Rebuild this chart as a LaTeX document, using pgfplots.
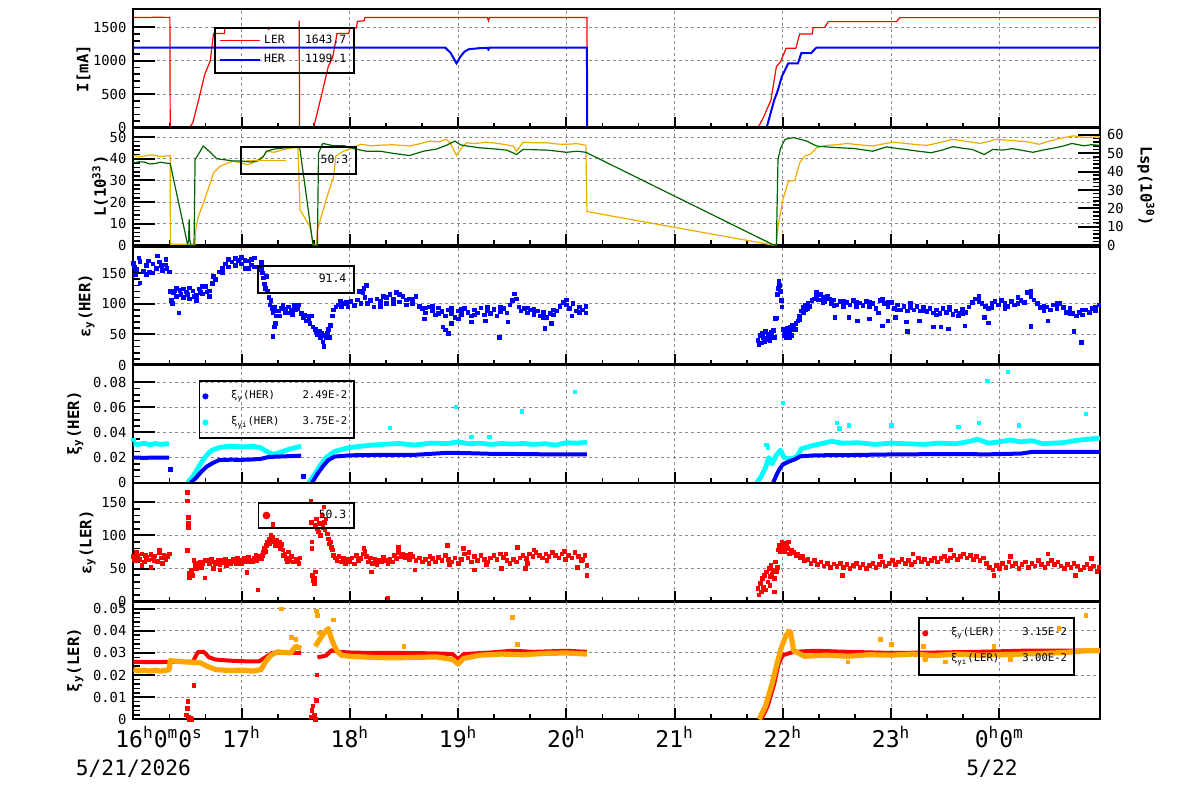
\documentclass[border=0pt]{standalone}
\usepackage{fontspec}
\setmainfont{DejaVu Sans Mono}
\usepackage{pgfplots}
\pgfplotsset{compat=1.18}
\definecolor{lorange}{RGB}{240,170,0}
\definecolor{dgreen}{RGB}{0,100,0}
\definecolor{xorange}{RGB}{255,165,0}
\definecolor{ccyan}{RGB}{0,255,255}
\pgfplotsset{
  base/.style={scale only axis, width=483.3pt, height=59.15pt, xmin=16, xmax=24.93, anchor=south west,
    axis line style={line width=1pt},
    grid style={dash pattern=on 1.5pt off 1.5pt, color=black!45, line width=0.5pt},
    every tick/.style={black, line width=1pt},
    every minor tick/.style={black, line width=0.8pt},
    scaled y ticks=false,
    tick label style={font=\fontsize{6.9}{7}\selectfont}},
  xov/.style={base, ymin=0, ymax=1, xtick={16,...,24}, minor x tick num=2, xtick pos=left,
    tick align=inside, major tick length=5.5pt, minor tick length=2.5pt, xmajorgrids,
    ytick=\empty, xticklabels={}},
  dat/.style={base, xtick=\empty, ytick pos=left, tick align=inside, major tick length=11pt,
    minor tick length=3.5pt, ymajorgrids, minor y tick num=4,
    ylabel style={font=\bfseries\fontsize{7.8}{8}\selectfont},
    unbounded coords=jump,
    legend cell align=left,
    legend style={draw=black, line width=0.8pt, fill=none, font=\fontsize{5.7}{6.5}\selectfont,
      inner xsep=2pt, inner ysep=1pt, row sep=0pt, anchor=north east}},
  lineleg/.style={legend image code/.code={\draw[##1, line width=0.6pt] (0pt,0pt) -- (20pt,0pt);}},
  sq/.style={only marks, mark=square*, mark size=0.9pt},
}
\begin{document}
\begin{tikzpicture}
\useasboundingbox (0,0) rectangle (600pt,399pt);
% ================= Panel 1: I[mA]
\begin{axis}[xov, at={(66.7pt,335.15pt)}]\end{axis}
\begin{axis}[dat, at={(66.7pt,335.15pt)}, ymin=0, ymax=1770, ytick={0,500,1000,1500},
  yticklabels={0,500,1000,1500}, ylabel={I[mA]}, ylabel style={yshift=-5.5pt},
  legend style={at={(0.2293,0.851)}, inner ysep=1.5pt}]
\addplot[red, line width=0.6pt, lineleg] coordinates {
(16.0,1650)(16.1,1648)(16.2,1652)(16.337,1650)(16.34,0)(16.52,0)(16.55,80)(16.6,400)(16.66,800)(16.71,1000)(16.74,1410)
(16.84,1410)(16.845,1490)(17.24,1490)(17.25,1470)(17.26,1490)(17.53,1490)(17.532,1600)(17.535,0)(17.66,0)(17.68,100)(17.74,500)
(17.8,913)(17.84,1050)(17.87,1300)(17.88,1410)(17.99,1410)(18.0,1490)(18.06,1490)(18.07,1590)(18.13,1600)(18.14,1650)
(19.27,1650)(19.28,1600)(19.29,1650)(20.19,1650)(20.192,0)(21.77,0)(21.82,150)(21.89,415)(21.94,913)(21.98,990)
(22.03,1189)(22.12,1189)(22.155,1403)(22.27,1403)(22.28,1497)(22.385,1497)(22.42,1587)(23.05,1587)(23.08,1647)(24.93,1647)};
\addlegendentry{\makebox[41pt][l]{LER\hfill 1643.7}}
\addplot[blue, line width=1pt, lineleg] coordinates {
(16.0,1199)(18.88,1199)(18.93,1120)(18.985,964)(19.02,1060)(19.06,1140)(19.1,1175)(19.2,1190)(19.27,1195)(19.28,1170)
(19.29,1199)(20.19,1199)(20.192,0)(21.85,0)(21.92,413)(21.955,564)(21.99,763)(22.05,964)(22.14,964)(22.17,1114)
(22.26,1114)(22.31,1199)(24.93,1199)};
\addlegendentry{\makebox[41pt][l]{HER\hfill 1199.1}}
\end{axis}
% ================= Panel 2: L
\begin{axis}[xov, at={(66.7pt,276.35pt)}]\end{axis}
\begin{axis}[base, at={(66.7pt,276.35pt)}, hide x axis, axis y line*=right, ymin=0, ymax=64.2,
  ytick={0,10,20,30,40,50,60}, yticklabels={0,10,20,30,40,50,60}, minor y tick num=4,
  tick align=inside, major tick length=11pt, minor tick length=3.5pt,
  ylabel={Lsp(10\textsuperscript{30})}, ylabel style={font=\bfseries\fontsize{7.8}{8}\selectfont, rotate=180}]
\end{axis}
\begin{axis}[dat, at={(66.7pt,276.35pt)}, ymin=0, ymax=54.7, ytick={0,10,20,30,40,50},
  yticklabels={0,10,20,30,40,50}, ylabel={L(10\textsuperscript{33})}, ylabel style={yshift=-6pt},
  legend style={at={(0.2313,0.839)}, inner ysep=2pt}]
\addplot[lorange, line width=0.6pt, forget plot] coordinates {
(16.0,41.5)(16.05,41.0)(16.1,41.2)(16.15,41.8)(16.2,41.6)(16.25,41.0)(16.3,41.3)(16.34,41.5)(16.342,0.5)(16.57,0.5)(16.575,7)
(16.6,13.3)(16.65,20)(16.71,28.8)(16.74,33.5)(16.8,36.6)(16.92,38.9)(17.0,38.1)(17.05,37.2)(17.1,38)(17.2,41.2)(17.23,43.5)
(17.3,43)(17.4,44.5)(17.48,45.1)(17.52,45.1)(17.54,16.4)(17.63,8.7)(17.66,0.3)(17.69,0.3)(17.70,7)(17.78,21)(17.85,31.9)
(17.87,41.2)(17.94,43.5)(18.0,44.5)(18.1,46.7)(18.2,46)(18.28,46.3)(18.4,46.5)(18.55,45.9)(18.65,47)(18.74,48.2)(18.82,47.8)
(18.89,49)(18.93,47)(18.985,41.5)(19.03,45)(19.08,47.4)(19.15,47)(19.26,47.7)(19.38,47)(19.51,45.9)(19.54,43.5)(19.6,47.7)
(19.7,47.4)(19.82,47.4)(19.92,46.8)(20.0,46.7)(20.1,47)(20.18,46.3)(20.19,15.6)(21.92,0)(21.94,0)(21.955,8.7)(22.0,21)
(22.05,29.6)(22.11,30)(22.155,38.1)(22.2,41.2)(22.26,42.3)(22.31,45.1)(22.4,46.2)(22.5,46.5)(22.59,47.1)(22.7,46.5)
(22.83,45.9)(22.92,46.8)(23.02,47.7)(23.15,47)(23.25,46.5)(23.33,46.2)(23.45,47.5)(23.57,49)(23.7,48)(23.82,47.1)(23.9,48)
(23.97,49)(24.1,48.5)(24.25,47.9)(24.37,46.7)(24.45,48)(24.55,49.3)(24.68,50.6)(24.8,49.8)(24.93,50.2)};
\addplot[dgreen, line width=0.6pt, forget plot] coordinates {
(16.0,38.1)(16.05,38.6)(16.1,38.5)(16.15,37.6)(16.2,37.8)(16.25,38.4)(16.3,38.0)(16.34,37.8)(16.50,0.5)(16.51,2)(16.515,12)
(16.52,3)(16.53,0)(16.56,0)(16.57,39.7)(16.6,42)(16.645,45.9)(16.7,43.5)(16.77,40)(16.85,39.5)(16.92,39)(17.0,39)(17.08,38.5)
(17.15,39)(17.2,41)(17.23,43.5)(17.3,44.5)(17.41,45.1)(17.53,45.5)(17.54,44)(17.66,0)(17.7,0)(17.71,42.6)(17.75,47.1)
(17.85,46)(17.95,46)(18.05,44.5)(18.15,43.5)(18.28,43.5)(18.4,42.5)(18.55,41.5)(18.68,43.5)(18.8,44.5)(18.89,46.2)
(18.97,48.2)(19.02,46.5)(19.08,45.9)(19.2,45.1)(19.35,44.5)(19.45,44)(19.54,42)(19.6,44.3)(19.7,44.2)(19.82,44)(19.92,43.5)
(20.0,43)(20.1,43.5)(20.18,43)(21.92,0)(21.94,0)(21.955,39.7)(21.98,45)(22.02,49)(22.1,49.8)(22.22,48.2)(22.31,45.9)
(22.4,45.5)(22.52,45.1)(22.65,44.8)(22.83,43.5)(22.96,45.5)(23.05,44.8)(23.14,44.3)(23.25,43.5)(23.37,42.8)(23.47,44)
(23.57,45.6)(23.67,44.8)(23.75,44.3)(23.86,42)(23.94,44.3)(24.03,44)(24.12,44.7)(24.22,43.8)(24.31,43)(24.42,44.2)
(24.52,45.1)(24.6,46)(24.67,47.1)(24.78,46)(24.85,46.5)(24.93,46.2)};
\addlegendimage{lorange, lineleg}
\addlegendentry{\makebox[29pt][r]{50.3}}
\end{axis}
% ================= Panel 3: eps_y(HER)
\begin{axis}[xov, at={(66.7pt,216.5pt)}]\end{axis}
\begin{axis}[dat, at={(66.7pt,216.5pt)}, ymin=0, ymax=193, ytick={0,50,100,150},
  yticklabels={0,50,100,150}, ylabel={ε\textsubscript{y}(HER)}, ylabel style={yshift=-3.5pt},
  legend style={at={(0.2293,0.845)}, inner ysep=2pt}]
\addplot[blue, sq, forget plot] coordinates {
(16.00,166)(16.03,156)(16.06,169)(16.09,153)(16.12,162)(16.15,151)(16.18,165)(16.21,158)(16.24,168)(16.27,154)(16.30,163)(16.33,152)
(16.05,175)(16.22,178)(16.30,172)(16.12,148)(16.18,150)(16.02,147)(16.06,134)(16.01,160)(16.14,170)(16.26,162)(16.31,158)
(16.34,120)(16.35,105)(16.36,100)(16.37,118)(16.40,112)(16.43,122)(16.42,85)(16.46,110)(16.49,119)(16.52,108)(16.55,121)
(16.58,114)(16.61,124)(16.64,116)(16.67,128)(16.70,121)(16.73,133)(16.76,140)(16.79,152)(16.82,158)(16.85,165)(16.88,160)
(16.91,168)(16.94,162)(16.97,171)(17.00,165)(17.03,158)(17.06,170)(17.09,163)(17.12,175)(17.15,160)(17.18,167)
(16.40,125)(16.46,124)(16.52,126)(16.58,105)(16.64,128)(16.70,112)(16.88,172)(16.94,174)(17.00,176)(17.06,158)(17.12,160)
(17.18,156)(16.44,115)(16.62,118)(16.38,121)(16.50,115)(16.56,112)(16.68,119)(16.74,145)(16.82,150)(17.03,171)(17.09,172)
(17.19,150)(17.20,142)(17.21,132)(17.22,125)(17.23,145)(17.24,120)(17.25,110)(17.26,98)(17.27,105)(17.28,92)(17.29,85)
(17.30,95)(17.31,88)(17.32,80)(17.31,68)(17.30,62)(17.29,47)(17.34,88)(17.37,92)(17.40,86)(17.43,95)(17.46,89)(17.49,97)
(17.52,92)(17.55,84)(17.35,80)(17.41,91)(17.47,83)(17.53,98)(17.38,97)(17.44,85)(17.50,90)
(17.57,78)(17.60,72)(17.58,82)(17.62,75)(17.63,68)(17.65,80)(17.66,62)(17.68,58)(17.70,50)(17.72,55)(17.73,45)(17.75,38)
(17.76,30)(17.77,48)(17.79,52)(17.80,58)(17.81,45)(17.82,65)(17.84,80)(17.85,90)(17.87,95)(17.89,98)(17.92,96)(17.95,100)
(17.98,95)(18.01,104)(18.04,97)(18.07,106)(18.10,100)(18.12,118)(18.13,125)(18.14,110)(18.16,100)(18.19,105)(18.22,95)
(18.25,108)(18.28,104)(18.31,112)(18.34,100)(18.37,115)(18.40,108)(18.43,118)(18.46,103)(18.49,112)(18.52,98)(18.55,108)
(18.58,100)(18.61,112)(18.64,96)(18.15,130)(18.09,120)(17.61,80)(17.69,55)(17.74,52)(17.78,44)(17.91,104)(17.97,102)
(18.28,96)(18.34,110)(18.46,115)(18.58,108)(18.40,100)(18.52,106)
(18.67,92)(18.70,85)(18.73,95)(18.76,88)(18.79,82)(18.82,93)(18.85,87)(18.88,80)(18.91,90)(18.94,84)(18.97,78)(19.00,88)
(19.03,83)(19.06,92)(19.09,86)(19.12,80)(19.15,90)(19.18,85)(19.21,93)(19.24,82)(19.27,88)(19.30,84)(19.33,91)(19.36,80)
(19.39,87)(19.42,92)(19.45,85)(19.48,98)(19.50,105)(19.52,116)(19.54,108)(19.56,95)(19.58,88)(19.61,92)(19.64,85)(19.67,90)
(19.70,83)(19.73,88)(19.76,80)(19.79,86)(19.82,78)(19.85,84)(19.88,82)(19.91,88)(19.94,96)(19.97,102)(20.00,98)(20.03,92)
(20.06,100)(20.09,88)(20.12,95)(20.15,90)(20.18,96)
(18.86,62)(18.88,57)(18.91,52)(18.94,68)(19.38,45)(18.69,75)(19.12,70)(19.46,70)(19.86,68)(19.80,60)(20.05,80)(20.18,85)
(19.00,75)(19.25,72)(18.70,93)(18.76,96)(18.82,84)(18.94,92)(19.03,91)(19.15,82)(19.27,95)(19.39,95)(19.64,93)(19.70,91)
(19.79,78)(19.88,90)(20.00,106)(20.12,86)
(21.77,40)(21.78,33)(21.79,48)(21.80,36)(21.81,52)(21.82,44)(21.83,38)(21.84,55)(21.85,42)(21.86,50)(21.87,46)(21.88,40)
(21.89,53)(21.90,48)(21.91,56)(21.92,45)(21.93,76)(21.94,77)(21.95,115)(21.96,125)(21.965,137)(21.97,130)(21.98,120)
(21.985,105)(21.99,95)(22.00,58)(22.01,48)(22.02,52)(22.03,45)(22.04,60)(22.05,55)(22.06,50)(22.07,62)(22.08,57)(22.09,65)
(22.10,60)(22.12,68)(22.14,72)(22.15,80)(22.17,88)(22.19,95)(22.21,90)(22.23,100)(22.25,96)(22.27,105)(22.29,108)(22.31,112)
(22.33,106)(22.35,115)(22.37,110)(22.39,104)(22.41,112)(22.43,108)(22.45,100)(22.47,106)(22.50,98)(22.53,104)(22.56,96)
(22.59,102)(22.62,98)(22.65,105)(22.68,95)(22.71,101)(22.74,97)(22.77,104)(22.80,95)(22.83,100)(22.86,92)(22.88,85)(22.90,105)
(22.92,108)(22.94,100)(22.97,95)(23.00,102)(23.03,92)(23.06,98)(23.09,90)(23.12,96)(23.15,88)(23.18,94)(23.21,90)(23.24,96)
(23.27,88)(23.30,95)(23.33,87)(23.36,92)(23.39,85)(23.42,90)(23.45,84)(23.48,92)(23.51,86)(23.54,90)(23.57,83)(23.60,88)
(23.63,84)(23.66,91)(23.69,86)(23.72,95)(23.75,102)(23.78,108)(23.81,112)(23.84,100)(23.87,96)(23.90,92)(23.93,100)(23.96,104)
(23.99,98)(24.02,105)(24.05,100)(24.08,96)(24.11,104)(24.14,98)(24.17,110)(24.20,105)(24.23,102)(24.26,118)(24.29,112)
(24.32,106)(24.35,100)(24.38,94)(24.41,88)(24.44,95)(24.47,90)(24.50,98)(24.53,92)(24.56,100)(24.59,94)(24.62,86)(24.65,92)
(24.68,84)(24.71,80)(24.74,86)(24.77,82)(24.80,90)(24.83,86)(24.86,92)(24.89,95)(24.92,98)
(22.06,44)(22.12,58)(22.23,92)(22.31,118)(22.37,102)(22.47,97)(22.56,104)(22.68,102)(22.80,102)(22.97,102)(23.06,90)
(23.18,100)(23.30,88)(23.42,82)(23.54,95)(23.66,84)(23.81,104)(23.93,94)(24.05,92)(24.17,100)(24.29,120)(24.41,96)(24.53,100)
(24.65,84)(24.77,90)(24.89,88)(22.15,74)(22.19,86)(22.21,98)
(22.08,48)(22.48,78)(22.61,78)(22.69,72)(22.80,75)(22.92,64)(22.97,72)(23.15,55)(23.39,62)(23.46,62)(23.53,59)(23.68,64)
(23.90,69)(24.29,63)(24.69,55)(24.76,37)(24.45,72)(23.04,78)(23.14,70)(23.26,72)(23.62,80)(23.86,78)};
\addlegendimage{empty legend}
\addlegendentry{\makebox[40pt][r]{91.4}}
\end{axis}
% ================= Panel 4: xi_y(HER)
\begin{axis}[xov, at={(66.7pt,157.65pt)}]\end{axis}
\begin{axis}[dat, at={(66.7pt,157.65pt)}, ymin=0, ymax=0.0942, ytick={0,0.02,0.04,0.06,0.08},
  yticklabels={0,0.02,0.04,0.06,0.08}, minor y tick num=3, ylabel={ξ\textsubscript{y}(HER)}, ylabel style={yshift=-2pt},
  legend style={at={(0.2293,0.868)}, font=\fontsize{5.3}{6}\selectfont, row sep=3.5pt, inner ysep=3pt, inner xsep=1.5pt}]
\addplot[ccyan, line width=2.4pt, line join=round, forget plot] coordinates {
(16.0,0.031)(16.05,0.0305)(16.1,0.0315)(16.15,0.030)(16.2,0.0312)(16.25,0.0305)(16.33,0.031)(16.34,nan)
(16.5,0)(16.55,0.005)(16.6,0.012)(16.65,0.019)(16.7,0.024)(16.73,0.026)(16.8,0.0282)(16.9,0.029)(17.0,0.0285)(17.1,0.029)
(17.17,0.028)(17.23,0.025)(17.29,0.0225)(17.35,0.024)(17.45,0.027)(17.55,0.029)(17.58,nan)
(17.62,0)(17.67,0.006)(17.72,0.013)(17.78,0.02)(17.86,0.025)(17.95,0.027)(18.0,0.028)(18.15,0.0295)(18.3,0.0305)(18.45,0.0312)
(18.6,0.030)(18.75,0.0315)(18.9,0.0312)(19.0,0.0325)(19.1,0.031)(19.2,0.0315)(19.3,0.0305)(19.4,0.0312)(19.5,0.0308)
(19.6,0.0312)(19.7,0.0305)(19.8,0.0310)(19.9,0.0300)(20.0,0.0318)(20.1,0.0315)(20.19,0.0322)(20.2,nan)
(21.76,0)(21.8,0.005)(21.84,0.012)(21.87,0.02)(21.9,0.015)(21.94,0.022)(21.98,0.026)(22.01,0.02)(22.05,0.019)(22.1,0.0195)
(22.14,0.022)(22.17,0.027)(22.25,0.029)(22.35,0.031)(22.45,0.033)(22.55,0.0315)(22.7,0.0318)(22.85,0.0305)(23.0,0.0315)
(23.15,0.031)(23.3,0.0305)(23.45,0.0315)(23.6,0.031)(23.7,0.0325)(23.8,0.0345)(23.9,0.0315)(24.0,0.0325)(24.1,0.034)
(24.2,0.0325)(24.3,0.0335)(24.4,0.031)(24.5,0.0315)(24.6,0.032)(24.7,0.0335)(24.8,0.0345)(24.93,0.0355)};
\addplot[ccyan, sq, forget plot] coordinates {
(16.0,0.034)(18.37,0.0435)(18.98,0.0603)(19.59,0.057)(20.08,0.0723)(19.12,0.0365)(19.29,0.0365)(21.85,0.03)(21.86,0.028)
(22.0,0.0635)(22.5,0.0475)(22.52,0.043)(22.61,0.0455)(23.0,0.0455)(23.62,0.0445)(23.81,0.0475)(23.89,0.0811)(24.08,0.0883)
(24.18,0.0455)(24.8,0.0547)};
\addplot[blue, line width=2pt, line join=round, forget plot] coordinates {
(16.0,0.020)(16.1,0.0198)(16.2,0.020)(16.33,0.0199)(16.335,nan)
(16.53,0)(16.58,0.004)(16.63,0.009)(16.68,0.013)(16.73,0.0155)(16.79,0.018)(16.9,0.0183)(17.0,0.0182)(17.1,0.0185)
(17.18,0.019)(17.25,0.0205)(17.4,0.021)(17.55,0.0215)(17.56,nan)
(17.65,0)(17.7,0.007)(17.75,0.013)(17.8,0.018)(17.86,0.0208)(18.0,0.0218)(18.3,0.0222)(18.6,0.0222)(18.9,0.0238)(19.1,0.0235)
(19.3,0.023)(19.6,0.0228)(19.9,0.0225)(20.19,0.0225)(20.2,nan)
(21.91,0)(21.94,0.006)(21.97,0.011)(22.0,0.0145)(22.06,0.017)(22.12,0.019)(22.16,0.021)(22.3,0.0218)(22.6,0.022)(23.0,0.0225)
(23.5,0.0228)(23.9,0.0226)(24.2,0.0232)(24.3,0.0245)(24.6,0.0245)(24.93,0.0245)};
\addplot[blue, sq, forget plot] coordinates {(16.34,0.0105)(17.57,0.005)};
\addlegendimage{legend image code/.code={\fill[blue] (1.5pt,0pt) circle (1.1pt); \path (12pt,0pt);}}
\addlegendentry{\makebox[58pt][l]{ξ\textsubscript{y}(HER)\hfill 2.49E-2}}
\addlegendimage{legend image code/.code={\fill[ccyan] (1.5pt,0pt) circle (1.1pt); \path (12pt,0pt);}}
\addlegendentry{\makebox[58pt][l]{ξ\textsubscript{yi}(HER)\hfill 3.75E-2}}
\end{axis}
% ================= Panel 5: eps_y(LER)
\begin{axis}[xov, at={(66.7pt,98.15pt)}]\end{axis}
\begin{axis}[dat, at={(66.7pt,98.15pt)}, ymin=0, ymax=178.4, ytick={0,50,100,150},
  yticklabels={0,50,100,150}, ylabel={ε\textsubscript{y}(LER)}, ylabel style={yshift=-4pt},
  legend style={at={(0.2293,0.843)}, inner ysep=1.5pt, inner xsep=2pt}]
\addplot[red, sq, forget plot] coordinates {
(16.00,68)(16.02,62)(16.04,70)(16.06,64)(16.08,72)(16.10,60)(16.12,67)(16.14,63)(16.16,71)(16.18,65)(16.20,69)(16.22,61)
(16.24,74)(16.26,66)(16.28,70)(16.30,63)(16.32,68)(16.33,72)(16.08,55)(16.16,52)(16.24,78)(16.03,75)(16.27,58)(16.01,64)
(16.11,70)(16.19,62)(16.29,66)
(16.50,165)(16.50,152)(16.51,127)(16.51,118)(16.51,112)(16.50,77)(16.52,43)(16.52,36)(16.53,40)(16.535,47)
(16.54,45)(16.55,40)(16.56,62)(16.57,55)(16.58,50)(16.59,58)(16.60,54)(16.62,60)(16.63,52)(16.64,57)(16.66,62)(16.66,36)
(16.68,63)(16.70,58)(16.72,64)(16.74,60)(16.76,57)(16.78,62)(16.80,56)(16.82,63)(16.84,59)(16.86,55)(16.88,61)(16.90,58)
(16.92,64)(16.94,60)(16.96,66)(16.98,62)(17.00,58)(17.02,65)(17.04,61)(17.06,67)(17.08,63)(17.10,60)(17.12,66)(17.14,62)
(17.16,68)(17.18,65)(17.05,44)(16.74,50)(16.80,48)(17.15,18)(16.85,64)(16.95,57)(17.07,60)(17.13,70)
(17.19,70)(17.20,74)(17.21,80)(17.22,76)(17.23,85)(17.24,90)(17.25,95)(17.26,88)(17.27,100)(17.28,93)(17.29,97)(17.30,90)
(17.31,85)(17.32,92)(17.33,88)(17.34,84)(17.35,90)(17.36,80)(17.37,86)(17.38,78)(17.385,70)(17.29,117)(17.40,72)(17.41,65)
(17.42,60)(17.43,66)(17.44,62)(17.46,68)(17.48,60)(17.50,64)(17.52,61)(17.54,66)(17.53,58)(17.43,75)
(17.64,152)(17.645,120)(17.65,90)(17.65,80)(17.655,40)(17.66,32)(17.67,28)(17.67,35)(17.68,45)(17.68,115)(17.69,125)
(17.70,110)(17.71,105)(17.72,118)(17.73,100)(17.74,130)(17.75,112)(17.76,143)(17.765,120)(17.77,108)(17.78,125)(17.79,102)
(17.80,95)(17.81,87)(17.82,90)(17.83,82)(17.84,78)(17.85,70)(17.86,66)(17.88,62)(17.90,68)(17.92,60)(17.94,65)(17.96,58)
(17.98,64)(18.00,60)(18.02,66)(18.04,57)(18.06,70)(18.08,62)(18.10,65)(18.12,72)(18.13,80)(18.14,76)(18.15,68)(18.17,60)
(18.19,66)(18.21,58)(18.23,64)(18.25,56)(18.27,62)(18.29,60)(18.31,67)(18.33,62)(18.35,5)(18.35,58)(18.37,64)(18.39,60)
(18.41,70)(18.43,65)(18.45,74)(18.47,68)(18.49,72)(18.51,66)(18.53,70)(18.55,64)(18.58,68)(18.61,62)(18.64,66)(18.67,60)
(18.70,64)(18.73,58)(18.76,65)(18.79,60)(18.82,67)(18.85,62)(18.88,70)(18.91,64)(18.94,60)(18.97,66)(19.00,58)(19.03,64)
(19.06,72)(19.09,66)(19.12,60)(19.15,68)(19.18,62)(19.21,70)(19.24,64)(19.27,60)(19.30,66)(19.33,70)(19.36,64)(19.39,72)
(19.42,67)(19.45,62)(19.48,58)(19.51,64)(19.54,60)(19.57,66)(19.60,70)(19.63,65)(19.66,72)(19.69,68)(19.72,74)(19.75,70)
(19.78,66)(19.81,72)(19.84,68)(19.87,74)(19.90,70)(19.93,66)(19.96,72)(19.99,64)(20.02,70)(20.05,66)(20.08,74)(20.11,68)
(20.14,62)(20.17,70)(20.19,55)(20.19,40)
(18.45,82)(18.90,85)(19.05,80)(19.55,82)(19.70,78)(18.20,45)(18.60,48)(19.15,48)(19.40,50)(19.62,50)(20.10,52)
(18.56,72)(18.74,68)(18.92,56)(19.10,74)(19.26,56)(19.44,72)(19.64,58)(19.82,62)(19.98,76)(20.15,64)
(21.77,20)(21.78,10)(21.79,28)(21.80,15)(21.81,35)(21.82,22)(21.83,40)(21.84,18)(21.85,45)(21.86,30)(21.87,50)(21.88,38)
(21.89,55)(21.90,42)(21.91,48)(21.92,35)(21.93,60)(21.94,45)(21.95,52)(21.96,78)(21.97,85)(21.98,75)(21.99,90)(22.00,82)
(22.01,88)(22.02,76)(22.03,84)(22.04,80)(22.05,90)(22.06,72)(22.08,78)(22.10,74)(22.12,70)(22.14,72)(22.16,66)(22.18,68)
(22.20,62)(22.23,64)(22.26,58)(22.29,62)(22.32,56)(22.35,60)(22.38,54)(22.41,58)(22.44,52)(22.47,57)(22.50,53)(22.53,58)
(22.56,52)(22.59,56)(22.62,50)(22.65,55)(22.68,58)(22.71,52)(22.74,56)(22.77,50)(22.80,55)(22.83,58)(22.86,52)(22.89,56)
(22.92,60)(22.95,54)(22.98,58)(23.01,62)(23.04,56)(23.07,60)(23.10,64)(23.13,58)(23.16,62)(23.19,56)(23.22,60)(23.25,66)
(23.28,60)(23.31,64)(23.34,58)(23.37,62)(23.40,66)(23.43,60)(23.46,65)(23.49,68)(23.52,62)(23.55,66)(23.58,70)(23.61,64)
(23.64,68)(23.67,72)(23.70,66)(23.73,70)(23.76,64)(23.79,68)(23.82,62)(23.85,66)(23.88,58)(23.91,52)(23.94,48)(23.97,55)
(24.00,50)(24.03,58)(24.06,52)(24.09,60)(24.12,54)(24.15,58)(24.18,50)(24.21,56)(24.24,60)(24.27,52)(24.30,58)(24.33,54)
(24.36,62)(24.39,56)(24.42,52)(24.45,58)(24.48,62)(24.51,56)(24.54,60)(24.57,54)(24.60,50)(24.63,56)(24.66,52)(24.69,58)
(24.72,54)(24.75,48)(24.78,52)(24.81,56)(24.84,50)(24.87,54)(24.90,46)(24.92,52)
(22.55,40)(22.90,68)(23.20,72)(23.55,78)(23.95,40)(24.10,68)(24.45,72)(24.70,40)(24.85,65)(21.88,25)(21.92,15)};
\addlegendimage{legend image code/.code={\fill[red] (1.5pt,0pt) circle (1.5pt);}}
\addlegendentry{\makebox[36pt][r]{50.3}}
\end{axis}
% ================= Panel 6: xi_y(LER)
\begin{axis}[xov, at={(66.7pt,39.35pt)}, xticklabel style={font=\fontsize{11.5}{12}\selectfont},
  xticklabels={\makebox[0pt][l]{\hspace*{-9pt}16\textsuperscript{h}0\textsuperscript{m}0\textsuperscript{s}},17\textsuperscript{h},18\textsuperscript{h},19\textsuperscript{h},20\textsuperscript{h},21\textsuperscript{h},22\textsuperscript{h},23\textsuperscript{h},0\textsuperscript{h}0\textsuperscript{m}}]\end{axis}
\begin{axis}[dat, at={(66.7pt,39.35pt)}, ymin=0, ymax=0.0535, ytick={0,0.01,0.02,0.03,0.04,0.05},
  yticklabels={0,0.01,0.02,0.03,0.04,0.05}, ylabel={ξ\textsubscript{y}(LER)}, ylabel style={yshift=-2pt},
  legend style={at={(0.974,0.865)}, font=\fontsize{5.3}{6}\selectfont, row sep=3.5pt, inner ysep=3pt, inner xsep=1.5pt}]
\addplot[red, line width=2pt, line join=round, forget plot] coordinates {
(16.0,0.026)(16.2,0.0258)(16.33,0.026)(16.45,0.026)(16.55,0.026)(16.58,0.029)(16.6,0.0305)(16.65,0.0305)(16.7,0.028)
(16.76,0.027)(16.9,0.0265)(17.05,0.0262)(17.16,0.0262)(17.22,0.028)(17.28,0.030)(17.4,0.0302)(17.55,0.030)(17.56,nan)
(17.7,0.028)(17.78,0.0288)(17.83,0.0312)(17.9,0.0305)(18.0,0.0302)(18.2,0.030)(18.5,0.030)(18.8,0.0298)(18.95,0.0295)
(19.0,0.027)(19.05,0.0295)(19.3,0.0302)(19.5,0.031)(19.7,0.0305)(20.0,0.031)(20.19,0.0305)(20.2,nan)
(21.8,0)(21.86,0.006)(21.92,0.016)(21.96,0.025)(22.0,0.029)(22.1,0.0305)(22.3,0.031)(22.6,0.0305)(23.0,0.030)(23.4,0.0302)
(23.8,0.0305)(24.2,0.031)(24.6,0.031)(24.93,0.031)};
\addplot[red, sq, forget plot] coordinates {
(16.49,0.002)(16.50,0.005)(16.505,0.008)(16.51,0.001)(16.52,0)(16.53,0.0005)(16.54,0)(16.56,0.0152)(17.64,0.001)(17.65,0.004)
(17.66,0.006)(17.67,0.002)(17.68,0)(17.69,0.0085)(17.695,0.02)};
\addplot[xorange, line width=2.6pt, line join=round, forget plot] coordinates {
(16.0,0.0225)(16.05,0.022)(16.1,0.0222)(16.15,0.0218)(16.2,0.0222)(16.25,0.0218)(16.33,0.0224)(16.34,0.0265)(16.45,0.026)
(16.55,0.0258)(16.62,0.0255)(16.68,0.024)(16.76,0.0225)(16.9,0.022)(17.0,0.0222)(17.1,0.0218)(17.18,0.0225)(17.22,0.026)
(17.27,0.029)(17.33,0.0305)(17.45,0.030)(17.5,0.033)(17.55,0.032)(17.56,nan)
(17.68,0.033)(17.72,0.036)(17.76,0.039)(17.8,0.041)(17.84,0.035)(17.88,0.031)(17.92,0.029)(18.0,0.0285)(18.2,0.028)
(18.4,0.0278)(18.6,0.028)(18.8,0.0282)(18.95,0.027)(19.0,0.025)(19.05,0.0275)(19.2,0.029)(19.4,0.0295)(19.6,0.0292)
(19.8,0.0298)(20.0,0.030)(20.19,0.0295)(20.2,nan)
(21.78,0)(21.84,0.006)(21.9,0.016)(21.95,0.026)(21.99,0.033)(22.03,0.038)(22.07,0.0395)(22.1,0.031)(22.2,0.0285)(22.4,0.029)
(22.6,0.0285)(22.8,0.0292)(23.0,0.029)(23.2,0.0295)(23.4,0.0288)(23.6,0.0295)(23.8,0.029)(24.0,0.0292)(24.2,0.0295)
(24.4,0.0298)(24.6,0.0302)(24.8,0.031)(24.93,0.031)};
\addplot[xorange, sq, forget plot] coordinates {
(17.37,0.05)(17.46,0.037)(17.5,0.036)(17.69,0.049)(17.7,0.047)(17.72,0.039)(17.85,0.045)(18.5,0.033)(19.5,0.046)(19.55,0.034)
(22.9,0.036)(24.8,0.047)(24.55,0.041)(22.05,0.04)(23.0,0.034)(23.3,0.033)(23.95,0.033)(22.6,0.026)(23.5,0.026)(24.1,0.027)};
\addlegendimage{legend image code/.code={\fill[red] (1.5pt,0pt) circle (1.1pt); \path (12pt,0pt);}}
\addlegendentry{\makebox[58pt][l]{ξ\textsubscript{y}(LER)\hfill 3.15E-2}}
\addlegendimage{legend image code/.code={\fill[xorange] (1.5pt,0pt) circle (1.1pt); \path (12pt,0pt);}}
\addlegendentry{\makebox[58pt][l]{ξ\textsubscript{yi}(LER)\hfill 3.00E-2}}
\end{axis}
\node[anchor=base, font=\fontsize{10.6}{11}\selectfont, inner sep=0pt] at (66.7pt,11pt) {5/21/2026};
\node[anchor=base, font=\fontsize{10.6}{11}\selectfont, inner sep=0pt] at (496pt,11pt) {5/22};
\end{tikzpicture}
\end{document}
